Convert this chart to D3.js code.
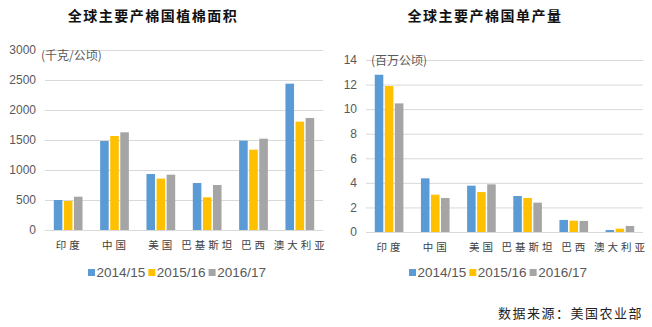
<!DOCTYPE html>
<html>
<head>
<meta charset="utf-8">
<script src="https://cdn.jsdelivr.net/npm/d3@7/dist/d3.min.js"></script>
<style>
  html, body { margin: 0; padding: 0; background: #fff; }
  svg { display: block; }
</style>
</head>
<body>
<svg id="chart" width="652" height="327"></svg>
<script>
// Countries and seasons
const countries = ["印度", "中国", "美国", "巴基斯坦", "巴西", "澳大利亚"];
const seasons = ["2014/15", "2015/16", "2016/17"];
const seasonColors = ["#5B9BD5", "#FFC000", "#A5A5A5"];

// Planted area per season (千克/公顷 as labelled)
const area1415 = [500, 1483, 933, 783, 1489, 2439];
const area1516 = [483, 1567, 856, 545, 1339, 1806];
const area1617 = [555, 1628, 922, 750, 1522, 1867];

// Yield per season (百万公顷 as labelled)
const yield1415 = [12.8, 4.37, 3.77, 2.93, 0.98, 0.16];
const yield1516 = [11.88, 3.04, 3.25, 2.77, 0.92, 0.27];
const yield1617 = [10.47, 2.77, 3.88, 2.39, 0.90, 0.49];

const areaTicks = [0, 500, 1000, 1500, 2000, 2500, 3000];
const yieldTicks = [0, 2, 4, 6, 8, 10, 12, 14];

const svg = d3.select("#chart");
const cjk = "'Noto Sans CJK SC', 'Noto Sans', sans-serif";
const latin = "'Liberation Sans', Arial, sans-serif";

function drawPanel(opt) {
  const g = svg.append("g");
  const series = [opt.s1, opt.s2, opt.s3];

  const x0 = d3.scaleBand().domain(countries)
    .range([opt.left, opt.right]).paddingInner(0.38).paddingOuter(0.19);
  const x1 = d3.scaleBand().domain(seasons)
    .range([0, x0.bandwidth()]).paddingInner(0.15);
  const y = d3.scaleLinear().domain([0, opt.max]).range([opt.bottom, opt.top]);

  // Gridlines + tick labels
  const axis = d3.axisLeft(y).tickValues(opt.ticks).tickFormat(d3.format("d"))
    .tickSize(-(opt.right - opt.left)).tickPadding(opt.tickPad);
  const ga = g.append("g").attr("transform", `translate(${opt.left},0)`).call(axis);
  ga.select(".domain").remove();
  ga.selectAll(".tick line").attr("stroke", "#d9d9d9").attr("stroke-width", 1);
  ga.selectAll(".tick text").attr("fill", "#595959")
    .style("font-family", latin).style("font-size", "12px");

  // Bars
  countries.forEach((c, i) => {
    series.forEach((s, k) => {
      g.append("rect")
        .attr("x", x0(c) + x1(seasons[k]))
        .attr("y", y(s[i]))
        .attr("width", x1.bandwidth())
        .attr("height", y(0) - y(s[i]))
        .attr("fill", seasonColors[k]);
    });
  });

  // Category labels
  g.append("g").selectAll("text").data(countries).join("text")
    .attr("x", d => x0(d) + x0.bandwidth() / 2 + 1)
    .attr("y", opt.catY)
    .attr("text-anchor", "middle")
    .attr("fill", "#404040")
    .style("font-family", cjk).style("font-size", "10.5px")
    .style("letter-spacing", "3px")
    .text(d => d);

  // Unit label
  g.append("text").attr("x", opt.unitX).attr("y", opt.unitY)
    .attr("fill", "#595959")
    .style("font-family", cjk).style("font-size", "12px")
    .text(opt.unit);

  // Title
  g.append("text").attr("x", opt.titleX).attr("y", opt.titleY)
    .attr("text-anchor", "middle").attr("fill", "#111")
    .style("font-family", cjk).style("font-size", "14px").style("font-weight", "bold")
    .style("letter-spacing", "1.5px")
    .text(opt.title);

  // Legend
  const lg = g.append("g").attr("transform", `translate(${opt.legendX},${opt.legendY})`);
  let cx = 0;
  seasons.forEach((s, k) => {
    lg.append("rect").attr("x", cx).attr("y", -8).attr("width", 7).attr("height", 7)
      .attr("fill", seasonColors[k]);
    const t = lg.append("text").attr("x", cx + 8.5).attr("y", 0)
      .attr("fill", "#595959")
      .style("font-family", latin).style("font-size", "13.5px")
      .text(s);
    cx += 8.5 + t.node().getComputedTextLength() + 3;
  });
}

drawPanel({
  left: 45, right: 323, top: 50, bottom: 230, max: 3000,
  ticks: areaTicks, tickPad: 9,
  s1: area1415, s2: area1516, s3: area1617,
  catY: 249, unit: "(千克/公顷)", unitX: 41, unitY: 60,
  title: "全球主要产棉国植棉面积", titleX: 153, titleY: 21,
  legendX: 88, legendY: 277
});

drawPanel({
  left: 366, right: 643, top: 60, bottom: 232, max: 14,
  ticks: yieldTicks, tickPad: 9,
  s1: yield1415, s2: yield1516, s3: yield1617,
  catY: 251, unit: "(百万公顷)", unitX: 371, unitY: 65,
  title: "全球主要产棉国单产量", titleX: 485, titleY: 21,
  legendX: 409, legendY: 277
});

// Source note
svg.append("text").attr("x", 643).attr("y", 318).attr("text-anchor", "end")
  .attr("fill", "#222")
  .style("font-family", cjk).style("font-size", "13px").style("letter-spacing", "1.5px")
  .text("数据来源：美国农业部");
</script>
</body>
</html>
